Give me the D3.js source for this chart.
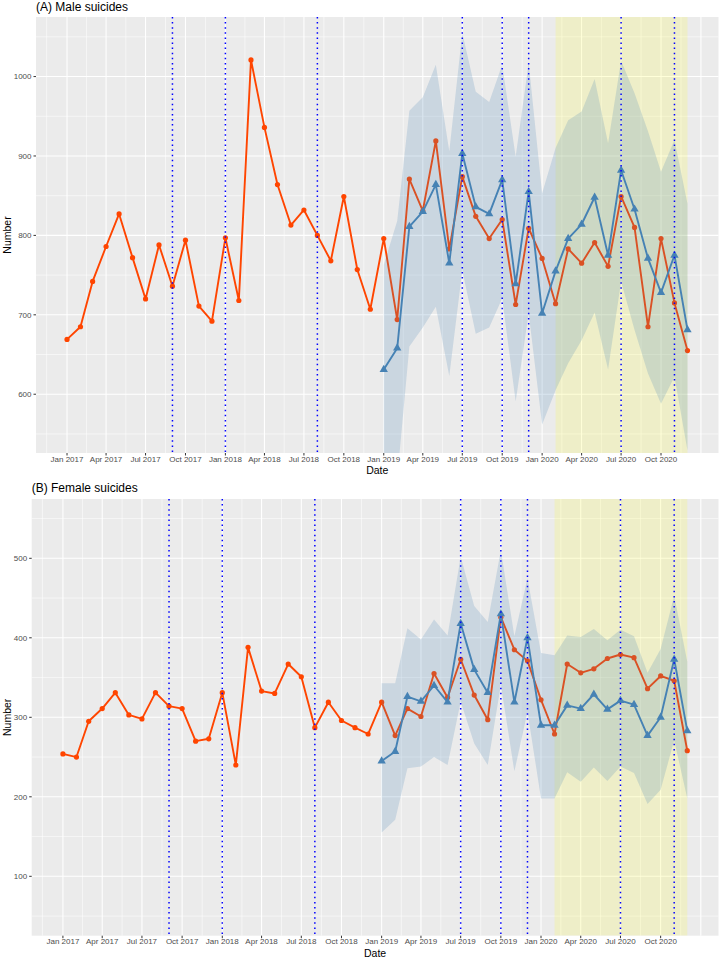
<!DOCTYPE html>
<html><head><meta charset="utf-8">
<script src="https://cdn.jsdelivr.net/npm/d3@7"></script>
<style>
html,body{margin:0;padding:0;background:#fff;}
svg{display:block;font-family:"Liberation Sans",Arial,sans-serif;}
</style></head>
<body>
<svg id="chart" width="721" height="959"></svg>
<script>
// ---------- data ----------
const months = [
 "2017-01","2017-02","2017-03","2017-04","2017-05","2017-06","2017-07","2017-08","2017-09","2017-10","2017-11","2017-12",
 "2018-01","2018-02","2018-03","2018-04","2018-05","2018-06","2018-07","2018-08","2018-09","2018-10","2018-11","2018-12",
 "2019-01","2019-02","2019-03","2019-04","2019-05","2019-06","2019-07","2019-08","2019-09","2019-10","2019-11","2019-12",
 "2020-01","2020-02","2020-03","2020-04","2020-05","2020-06","2020-07","2020-08","2020-09","2020-10","2020-11","2020-12"];
const predMonths = months.slice(24);

const maleObserved = [669,685,742,786,827,772,720,788,736,794,711,692,
                      797,718,1021,936,864,813,832,800,768,849,757,707,
                      796,694,871,831,919,783,874,824,796,820,713,809,
                      771,714,783,765,791,761,849,810,685,796,715,655];
const malePredicted = [631,658,811,830,864,765,903,836,827,870,739,855,
                       702,755,796,814,848,775,882,833,771,728,775,681];
const maleUpper = [763,818,957,974,1015,906,1055,981,968,1015,899,1017,
                   853,910,945,956,997,916,1020,979,931,880,920,840];
const maleLower = [470,494,660,684,710,623,756,676,684,721,591,702,
                   562,605,639,668,703,631,742,681,626,588,622,529];

const femaleObserved = [254,250,295,311,331,303,298,331,314,311,270,273,
                        331,240,388,333,330,367,351,287,319,296,287,279,
                        319,277,311,301,355,325,373,328,297,426,385,371,
                        322,279,367,356,361,374,379,375,336,352,346,258];
const femalePredicted = [245,257,326,320,340,319,418,360,331,430,319,400,
                         290,290,315,311,329,310,321,316,277,300,373,283];
const femaleUpper = [343,343,412,398,423,403,502,440,420,510,402,475,
                     381,378,403,401,411,397,410,402,356,386,453,370];
const femaleLower = [155,171,236,238,250,240,320,267,240,341,232,307,
                     198,198,231,219,237,220,238,230,191,209,271,198];

const eventDates = ["2017-09-01","2018-01-01","2018-08-01","2019-07-01","2019-10-01","2019-12-01","2020-07-01","2020-11-01"];
const highlightPeriod = ["2020-02-01","2020-12-01"];
const xTickDates = ["2017-01-01","2017-04-01","2017-07-01","2017-10-01","2018-01-01","2018-04-01","2018-07-01","2018-10-01",
                    "2019-01-01","2019-04-01","2019-07-01","2019-10-01","2020-01-01","2020-04-01","2020-07-01","2020-10-01"];
const maleYTicks = [600,700,800,900,1000];
const femaleYTicks = [100,200,300,400,500];

// ---------- drawing ----------
const parseM = d3.timeParse("%Y-%m");
const parseD = d3.timeParse("%Y-%m-%d");
const fmt = d3.timeFormat("%b %Y");
const svg = d3.select("#chart");

const ORANGE = "#FF4500", BLUE = "#4682B4";

const first = parseM(months[0]), last = parseM(months[months.length-1]);
const span = last - first;
const xDomain = [new Date(+first - span*0.05), new Date(+last + span*0.05)];

function panel(cfg){
  const {title, top, bottom, left, right, yDomain, yTicks, obs, pred, lo, hi, titleY, xLabY, dateY, id} = cfg;
  const x = d3.scaleTime().domain(xDomain).range([left,right]);
  const y = d3.scaleLinear().domain(yDomain).range([bottom,top]);
  const g = svg.append("g");

  g.append("defs").append("clipPath").attr("id","clip"+id)
    .append("rect").attr("x",left).attr("y",top).attr("width",right-left).attr("height",bottom-top);

  g.append("rect").attr("x",left).attr("y",top).attr("width",right-left).attr("height",bottom-top).attr("fill","#EBEBEB");

  // grid
  const majorX = xTickDates.map(parseD).concat([parseD("2021-01-01")]);
  const minorX = [parseD("2016-11-15")];
  for(let i=0;i<majorX.length-1;i++) minorX.push(new Date((+majorX[i]+ +majorX[i+1])/2));
  const step = yTicks[1]-yTicks[0];
  const minorY = [yTicks[0]-step/2].concat(yTicks.map(v=>v+step/2)).filter(v=>v>yDomain[0]&&v<yDomain[1]);

  g.selectAll(".mx").data(minorX).join("line").attr("x1",d=>x(d)).attr("x2",d=>x(d)).attr("y1",top).attr("y2",bottom)
    .attr("stroke","#fff").attr("stroke-width",0.55);
  g.selectAll(".my").data(minorY).join("line").attr("x1",left).attr("x2",right).attr("y1",d=>y(d)).attr("y2",d=>y(d))
    .attr("stroke","#fff").attr("stroke-width",0.55);
  g.selectAll(".Mx").data(majorX).join("line").attr("x1",d=>x(d)).attr("x2",d=>x(d)).attr("y1",top).attr("y2",bottom)
    .attr("stroke","#fff").attr("stroke-width",1.07);
  g.selectAll(".My").data(yTicks).join("line").attr("x1",left).attr("x2",right).attr("y1",d=>y(d)).attr("y2",d=>y(d))
    .attr("stroke","#fff").attr("stroke-width",1.07);

  const body = g.append("g").attr("clip-path","url(#clip"+id+")");

  // highlight period (under marks)
  const h0 = x(parseD(highlightPeriod[0])), h1 = x(parseD(highlightPeriod[1]));
  body.append("rect").attr("x",h0).attr("y",top).attr("width",h1-h0).attr("height",bottom-top)
    .attr("fill","#FFFF00").attr("fill-opacity",0.15);

  const obsData = months.map((m,i)=>({d:parseM(m), v:obs[i]}));
  const predData = predMonths.map((m,i)=>({d:parseM(m), v:pred[i], lo:lo[i], hi:hi[i]}));

  const line = d3.line().x(d=>x(d.d)).y(d=>y(d.v));
  body.append("path").datum(obsData).attr("d",line).attr("fill","none").attr("stroke",ORANGE).attr("stroke-width",1.9).attr("stroke-linejoin","round");
  body.selectAll(".pt").data(obsData).join("circle").attr("cx",d=>x(d.d)).attr("cy",d=>y(d.v)).attr("r",2.6).attr("fill",ORANGE);

  // ribbon
  const area = d3.area().x(d=>x(d.d)).y0(d=>y(d.lo)).y1(d=>y(d.hi));
  body.append("path").datum(predData).attr("d",area).attr("fill",BLUE).attr("fill-opacity",0.2);

  body.append("path").datum(predData).attr("d",line).attr("fill","none").attr("stroke",BLUE).attr("stroke-width",1.9).attr("stroke-linejoin","round");
  const tri = d3.symbol().type(d3.symbolTriangle).size(30);
  body.selectAll(".tr").data(predData).join("path").attr("d",tri)
    .attr("transform",d=>`translate(${x(d.d)},${y(d.v)})`).attr("fill",BLUE);

  // event lines
  body.selectAll(".ev").data(eventDates.map(parseD)).join("line")
    .attr("x1",d=>x(d)).attr("x2",d=>x(d)).attr("y1",top).attr("y2",bottom)
    .attr("stroke","#0000FF").attr("stroke-width",1.5).attr("stroke-dasharray","1.5,3.6");

  // axes
  const xt = xTickDates.map(parseD);
  g.selectAll(".xtk").data(xt).join("line").attr("x1",d=>x(d)).attr("x2",d=>x(d)).attr("y1",bottom).attr("y2",bottom+2.5)
    .attr("stroke","#333").attr("stroke-width",1);
  g.selectAll(".xtl").data(xt).join("text").attr("x",d=>x(d)).attr("y",xLabY).attr("text-anchor","middle")
    .attr("font-size",8).attr("fill","#4D4D4D").text(d=>fmt(d));
  g.selectAll(".ytk").data(yTicks).join("line").attr("x1",left-2.5).attr("x2",left).attr("y1",d=>y(d)).attr("y2",d=>y(d))
    .attr("stroke","#333").attr("stroke-width",1);
  g.selectAll(".ytl").data(yTicks).join("text").attr("x",left-4.5).attr("y",d=>y(d)).attr("dy","0.35em").attr("text-anchor","end")
    .attr("font-size",8).attr("fill","#4D4D4D").text(d=>d);

  g.append("text").attr("x",(left+right)/2).attr("y",dateY).attr("text-anchor","middle").attr("font-size",10.5).attr("fill","#000").text("Date");
  g.append("text").attr("transform",`translate(11.3,${(top+bottom)/2}) rotate(-90)`).attr("text-anchor","middle")
    .attr("font-size",10.5).attr("fill","#000").text("Number");
  g.append("text").attr("x",left).attr("y",titleY).attr("font-size",12).attr("fill","#000").text(title);
}

panel({id:"A", title:"(A) Male suicides", top:17, bottom:453, left:36, right:718.5, yDomain:[526,1075], yTicks:maleYTicks,
  obs:maleObserved, pred:malePredicted, lo:maleLower, hi:maleUpper, titleY:10.5, xLabY:462.4, dateY:474.3});
panel({id:"B", title:"(B) Female suicides", top:499, bottom:935.7, left:31.7, right:718.5, yDomain:[25.3,574.6], yTicks:femaleYTicks,
  obs:femaleObserved, pred:femalePredicted, lo:femaleLower, hi:femaleUpper, titleY:492, xLabY:944, dateY:956.7});
</script>
</body></html>
